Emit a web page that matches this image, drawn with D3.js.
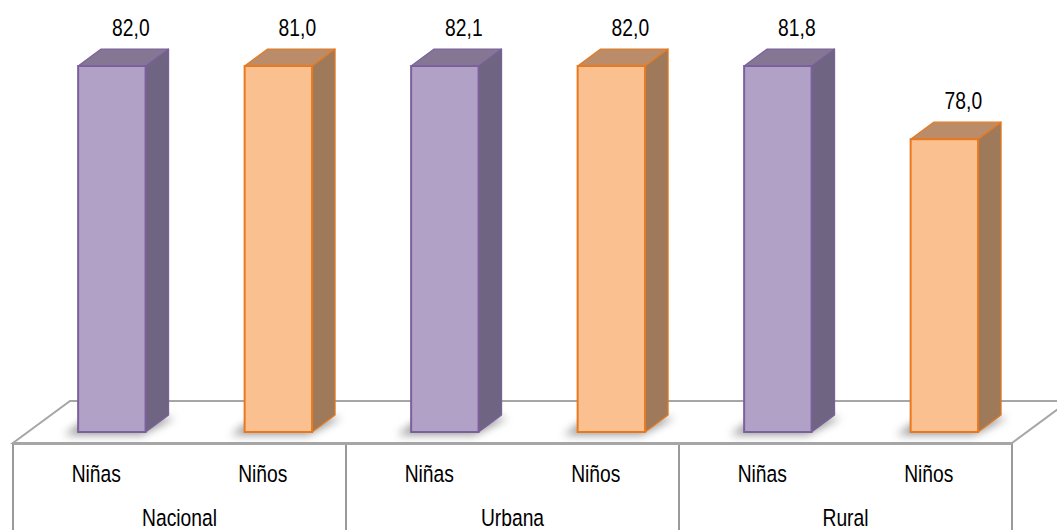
<!DOCTYPE html>
<html><head><meta charset="utf-8">
<script src="https://cdn.jsdelivr.net/npm/d3@7"></script>
<style>
html,body{margin:0;padding:0;background:#fff;}
svg{display:block;}
text{font-family:"Liberation Sans Narrow","Arial Narrow","Liberation Sans",Arial,sans-serif;fill:#000;}
</style></head>
<body>
<svg id="chart" width="1057" height="530"></svg>
<script>
// ---- data ----
const groups = ["Nacional", "Urbana", "Rural"];
const subLabels = ["Niñas", "Niños", "Niñas", "Niños", "Niñas", "Niños"];
const groupOf = [0, 0, 1, 1, 2, 2];
const series = ["Niñas", "Niños", "Niñas", "Niños", "Niñas", "Niños"];
const values = [82.0, 81.0, 82.1, 82.0, 81.8, 78.0];
const valueLabels = ["82,0", "81,0", "82,1", "82,0", "81,8", "78,0"];
const yDomain = [70, 80];

// ---- layout ----
const W = 1057, H = 530;
const left = 13, right = 1012;
const floorFrontY = 443, floorDX = 57, floorDY = -42;
const barBaseY = 432, barTopMax = 66;
const barShiftX = 15.6;
const depthDX = 23, depthDY = -17;
const FS = 23.5, SX = 0.82;

const svg = d3.select("#chart");
const defs = svg.append("defs");
defs.append("filter").attr("id","blur").attr("x","-50%").attr("y","-50%").attr("width","200%").attr("height","200%")
  .append("feGaussianBlur").attr("stdDeviation", 4);

function label(parent, tx, ty, str) {
  parent.append("g").attr("transform", `translate(${tx},${ty}) scale(${SX},1)`)
    .append("text").attr("x",0).attr("y",0).attr("text-anchor","middle").attr("font-size",FS).text(str);
}

const idx = d3.range(values.length);
const x = d3.scaleBand().domain(idx).range([left, right]).paddingInner(0).paddingOuter(0);
const xg = d3.scaleBand().domain(d3.range(groups.length)).range([left, right]);
const y = d3.scaleLinear().domain(yDomain).range([barBaseY, barTopMax]).clamp(true);
const color = d3.scaleOrdinal().domain(["Niñas","Niños"]).range(["#B2A1C7","#FAC090"]);
const sideC = d3.scaleOrdinal().domain(["Niñas","Niños"]).range(["#6F6481","#9E7A5A"]);
const topC = d3.scaleOrdinal().domain(["Niñas","Niños"]).range(["#857794","#BA8C69"]);
const edgeC = d3.scaleOrdinal().domain(["Niñas","Niños"]).range(["#7A619C","#E8791E"]);

// ---- floor ----
const floorPts = [[left, floorFrontY],[right, floorFrontY],[right+floorDX, floorFrontY+floorDY],[left+floorDX, floorFrontY+floorDY]];
svg.append("polygon").attr("points", floorPts.map(p=>p.join(",")).join(" "))
  .attr("fill","#fff").attr("stroke","#A6A6A6").attr("stroke-width",2);

const barW = x.bandwidth() * 0.405;

// shadows
const gBars = svg.append("g");
idx.forEach(i => {
  const x0 = x(i) + x.bandwidth()/2 + barShiftX - barW/2;
  const pts = [[x0-14, barBaseY+3],[x0+barW-4, barBaseY+3],[x0+barW+depthDX+6, barBaseY+depthDY+3],[x0+depthDX-6, barBaseY+depthDY-2]];
  gBars.append("polygon").attr("points", pts.map(p=>p.join(",")).join(" "))
    .attr("fill","#6f6f6f").attr("opacity",0.7).attr("filter","url(#blur)");
});

// bars
idx.forEach(i => {
  const s = series[i];
  const x0 = x(i) + x.bandwidth()/2 + barShiftX - barW/2;
  const x1 = x0 + barW;
  const yt = y(values[i]);
  const yb = barBaseY;
  const g = gBars.append("g");
  g.append("polygon").attr("points", [[x1,yb],[x1+depthDX,yb+depthDY],[x1+depthDX,yt+depthDY],[x1,yt]].map(p=>p.join(",")).join(" "))
    .attr("fill", sideC(s)).attr("stroke", edgeC(s)).attr("stroke-width",1.2).attr("stroke-linejoin","round");
  g.append("polygon").attr("points", [[x0,yt],[x1,yt],[x1+depthDX,yt+depthDY],[x0+depthDX,yt+depthDY]].map(p=>p.join(",")).join(" "))
    .attr("fill", topC(s)).attr("stroke", edgeC(s)).attr("stroke-width",1.2).attr("stroke-linejoin","round");
  g.append("rect").attr("x", x0).attr("y", yt).attr("width", barW).attr("height", yb-yt)
    .attr("fill", color(s)).attr("stroke", edgeC(s)).attr("stroke-width",2);
  label(svg, x0 + barW/2 + 19, yt + depthDY - 13, valueLabels[i]);
});

// ---- category axis table ----
const axisG = svg.append("g");
const dividers = [left].concat(d3.range(groups.length).map(g => xg(g) + xg.bandwidth()));
dividers.forEach(dx => {
  axisG.append("line").attr("x1",dx).attr("x2",dx).attr("y1",floorFrontY).attr("y2",H)
    .attr("stroke","#9A9A9A").attr("stroke-width",2);
});
axisG.append("line").attr("x1",left).attr("x2",right).attr("y1",floorFrontY+1).attr("y2",floorFrontY+1)
  .attr("stroke","#A6A6A6").attr("stroke-width",2);

idx.forEach(i => label(axisG, x(i)+x.bandwidth()/2, 482, subLabels[i]));
groups.forEach((gname, gi) => label(axisG, xg(gi)+xg.bandwidth()/2, 526, gname));
</script>
</body></html>
